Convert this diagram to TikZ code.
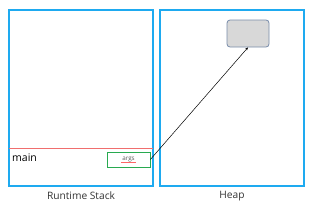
\documentclass[tikz,border=0pt]{standalone}
\usepackage{fontspec}
\setmainfont{Open Sans}
\usetikzlibrary{arrows.meta}
\definecolor{frameblue}{RGB}{30,170,240}
\definecolor{redline}{RGB}{240,110,110}
\definecolor{argsgreen}{RGB}{40,170,80}
\definecolor{objfill}{RGB}{216,216,216}
\definecolor{objdraw}{RGB}{120,140,170}
\begin{document}
\begin{tikzpicture}[x=1pt,y=-1pt,
  region/.style={draw=frameblue,line width=1.2pt},
  caption/.style={font=\fontsize{10.2}{11}\selectfont,text=black!80},
  varbox/.style={draw=argsgreen,line width=0.7pt,minimum width=43pt,minimum height=15pt,inner sep=0pt,font=\fontsize{6.3}{7}\selectfont,text=black!65},
  obj/.style={draw=objdraw,fill=objfill,rounded corners=3pt,line width=0.8pt,minimum width=42pt,minimum height=27pt},
  ref/.style={draw=black,line width=0.5pt,-{Stealth[length=3pt,width=2.5pt]}}]
\useasboundingbox (0,0) rectangle (320,209);
\node[region,minimum width=144pt,minimum height=176pt,inner sep=0pt] (stack) at (81,98) {};
\node[region,minimum width=144pt,minimum height=176pt,inner sep=0pt] (heap) at (232,98) {};
\coordinate (fl) at (9,148);
\coordinate (fr) at (153,148);
\draw[redline,line width=0.8pt] (fl) -- (fr);
\node[font=\fontsize{10.5}{11}\selectfont,anchor=west,inner sep=0pt] (main) at (12,158) {main};
\node[varbox] (args) at (128.5,159.5) {args};
\coordinate (ul) at (121,162.2);
\coordinate (ur) at (136,162.2);
\draw[red!60,line width=0.3pt] (ul) -- (ur);
\node[obj] (o) at (248,33.5) {};
\draw[ref] (args.east) -- (o.south);
\node[caption] (cs) at (81,196) {Runtime Stack};
\node[caption] (ch) at (232,196) {Heap};
\end{tikzpicture}
\end{document}
